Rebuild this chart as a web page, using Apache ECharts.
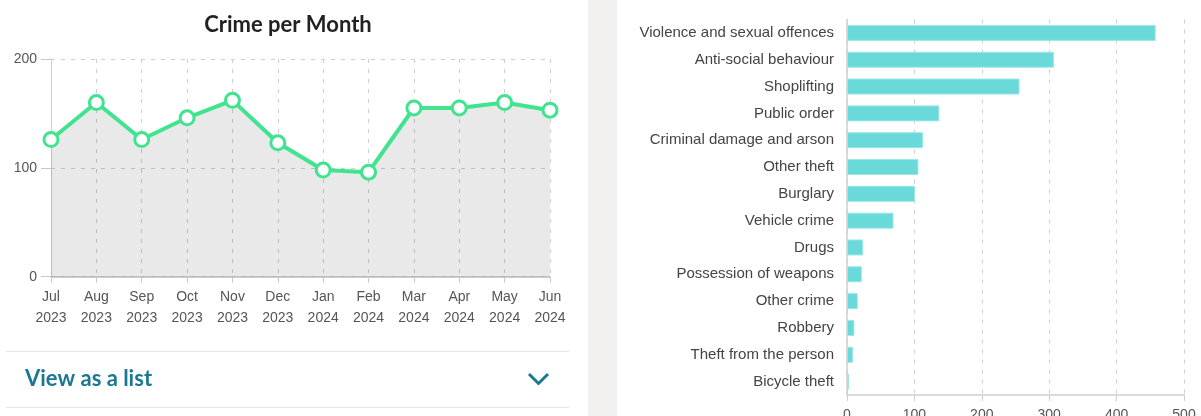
<!DOCTYPE html>
<html>
<head>
<meta charset="utf-8">
<title>Crime per Month</title>
<script src="https://cdn.jsdelivr.net/npm/echarts@6/dist/echarts.min.js"></script>
<style>
  html, body { margin: 0; padding: 0; background: #fff; overflow: hidden; }
  #chart { width: 1201px; height: 416px; }
</style>
</head>
<body>
<div id="chart"></div>
<script>
// Left panel: monthly crime counts
const months = [
	'Jul\n2023', 'Aug\n2023', 'Sep\n2023', 'Oct\n2023', 'Nov\n2023', 'Dec\n2023',
	'Jan\n2024', 'Feb\n2024', 'Mar\n2024', 'Apr\n2024', 'May\n2024', 'Jun\n2024'
];
const monthlyCrimes = [ 126, 160, 126, 146, 162, 123, 98, 96, 155, 155, 160, 153 ];

// Right panel: crimes by type (top to bottom)
const crimeTypes = [
	'Violence and sexual offences',
	'Anti-social behaviour',
	'Shoplifting',
	'Public order',
	'Criminal damage and arson',
	'Other theft',
	'Burglary',
	'Vehicle crime',
	'Drugs',
	'Possession of weapons',
	'Other crime',
	'Robbery',
	'Theft from the person',
	'Bicycle theft'
];
const crimeCounts = [ 458, 307, 256, 137, 113, 106, 101, 69, 24, 22, 16, 11, 9, 3 ];

const GREEN = '#40e48f';
const TEAL = '#1b7893';
const GRID_LINE = '#cfcfcf';
const LABEL_FONT = '"Liberation Sans", Arial, sans-serif';

const chart = echarts.init( document.getElementById( 'chart' ), null, { renderer: 'canvas' } );

const dashed = {
	show: true,
	lineStyle: { color: GRID_LINE, type: [ 4, 6 ], width: 1 }
};

chart.setOption( {
	animation: false,
	backgroundColor: '#fff',
	grid: [
		// labels of the right chart run off the bottom edge, so don't let ECharts pull them in
		{ left: 51, right: 651, top: 59, bottom: 139.3, outerBoundsMode: 'none', containLabel: false },
		{ left: 847, right: 17, top: 19.5, bottom: 21, outerBoundsMode: 'none', containLabel: false }
	],
	xAxis: [
		{
			gridIndex: 0,
			type: 'category',
			data: months,
			boundaryGap: false,
			axisLine: { lineStyle: { color: '#bdbdbd', width: 1.5 } },
			axisTick: { show: true, length: 6, lineStyle: { color: '#c8c8c8' } },
			axisLabel: {
				color: '#555',
				fontFamily: LABEL_FONT,
				fontSize: 14,
				lineHeight: 21,
				margin: 10
			},
			splitLine: dashed
		},
		{
			gridIndex: 1,
			type: 'value',
			min: 0,
			max: 500,
			interval: 100,
			axisLine: { show: true, lineStyle: { color: '#cfcfcf', width: 1.5 } },
			axisTick: { show: true, length: 6, lineStyle: { color: '#cfcfcf' } },
			axisLabel: {
				color: '#555',
				fontFamily: LABEL_FONT,
				fontSize: 14,
				margin: 13
			},
			splitLine: dashed
		}
	],
	yAxis: [
		{
			gridIndex: 0,
			type: 'value',
			min: 0,
			max: 200,
			interval: 100,
			axisLine: { show: true, lineStyle: { color: '#cfcfcf', width: 1 } },
			axisTick: { show: true, length: 10, lineStyle: { color: '#c8c8c8' } },
			axisLabel: {
				color: '#555',
				fontFamily: LABEL_FONT,
				fontSize: 14,
				margin: 14
			},
			splitLine: dashed
		},
		{
			gridIndex: 1,
			type: 'category',
			data: crimeTypes,
			inverse: true,
			axisLine: { show: true, lineStyle: { color: '#cfcfcf', width: 1.5 } },
			axisTick: { show: false },
			axisLabel: {
				color: '#444',
				fontFamily: LABEL_FONT,
				fontSize: 15,
				margin: 13
			},
			splitLine: { show: false }
		}
	],
	series: [
		{
			type: 'line',
			xAxisIndex: 0,
			yAxisIndex: 0,
			data: monthlyCrimes,
			symbol: 'circle',
			symbolSize: 14,
			showAllSymbol: true,
			lineStyle: { color: GREEN, width: 4 },
			itemStyle: { color: '#fff', borderColor: GREEN, borderWidth: 3 },
			areaStyle: { color: 'rgba(0, 0, 0, 0.12)', origin: 'start' },
			z: 3
		},
		{
			type: 'bar',
			xAxisIndex: 1,
			yAxisIndex: 1,
			data: crimeCounts,
			barWidth: 16,
			itemStyle: { color: '#69d9da', borderColor: '#9de7e7', borderWidth: 1 }
		}
	],
	graphic: [
		{
			type: 'rect',
			shape: { x: 588, y: 0, width: 29, height: 416 },
			style: { fill: '#f2f1ef' },
			z: -10
		},
		{
			type: 'text',
			x: 288,
			y: 25,
			style: {
				text: 'Crime per Month',
				fill: '#222',
				font: 'bold 22px Lato, "Open Sans", sans-serif',
				align: 'center',
				verticalAlign: 'middle'
			}
		},
		{
			type: 'line',
			shape: { x1: 6, y1: 351.5, x2: 569, y2: 351.5 },
			style: { stroke: '#e4e4e4', lineWidth: 1 }
		},
		{
			type: 'text',
			x: 25,
			y: 379,
			style: {
				text: 'View as a list',
				fill: TEAL,
				font: 'bold 22px Lato, "Open Sans", sans-serif',
				align: 'left',
				verticalAlign: 'middle'
			}
		},
		{
			type: 'polyline',
			shape: { points: [ [ 529, 374 ], [ 538.5, 383.5 ], [ 548, 374 ] ] },
			style: { stroke: TEAL, lineWidth: 3, fill: null }
		},
		{
			type: 'line',
			shape: { x1: 6, y1: 407.5, x2: 569, y2: 407.5 },
			style: { stroke: '#e4e4e4', lineWidth: 1 }
		}
	]
} );
</script>
</body>
</html>
